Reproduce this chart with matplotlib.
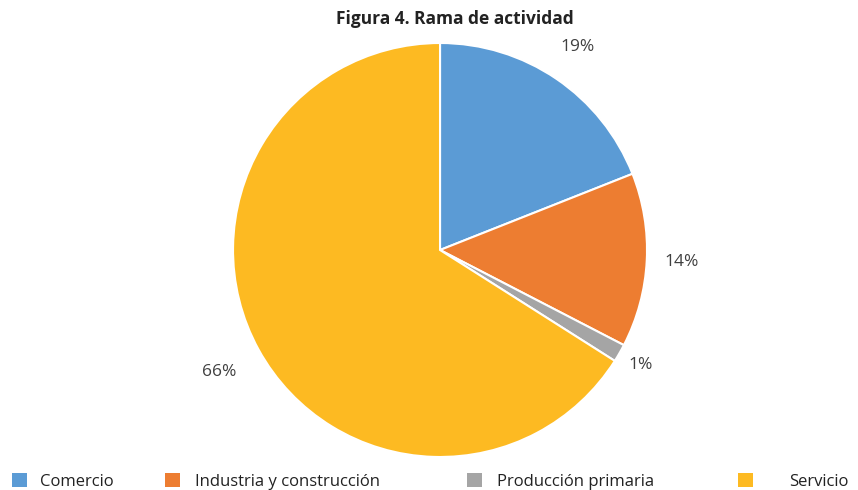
import numpy as np
import matplotlib.pyplot as plt
from matplotlib.patches import Patch

plt.rcParams['font.family'] = ['Open Sans', 'DejaVu Sans']

categories = ['Comercio', 'Industria y construcción', 'Producción primaria', 'Servicio']
values = [19.0, 13.6, 1.4, 66.0]
colors = ['#5B9BD5', '#ED7D31', '#A5A5A5', '#FDBA22']

fig = plt.figure(figsize=(8.58, 4.90), dpi=100)
ax = fig.add_axes([0.2716, 0.0673, 0.4825, 0.845])

wedges, texts = ax.pie(values, colors=colors, startangle=90, counterclock=False,
                       wedgeprops=dict(edgecolor='white', linewidth=1.5))
# label distances
label_dist = [1.185, 1.17, 1.12, 1.22]
for w, v, d in zip(wedges, values, label_dist):
    ang = np.deg2rad((w.theta1 + w.theta2) / 2)
    ax.text(d * np.cos(ang), d * np.sin(ang), f'{round(v):d}%', ha='center', va='center',
            fontsize=12.5, color='#404040')
ax.set_xlim(-1, 1)
ax.set_ylim(-1, 1)
ax.set_aspect('equal')
ax.axis('off')

fig.text(0.530, 0.962, 'Figura 4. Rama de actividad', ha='center', va='center',
         fontsize=12.5, fontweight='bold', color='#222222')

# legend entries placed along the bottom like the original
leg_x = [0.006, 0.184, 0.537, 0.852]
leg_pad = [0.8, 0.9, 0.9, 2.2]
for cat, c, x, pad in zip(categories, colors, leg_x, leg_pad):
    fig.legend([Patch(facecolor=c)], [cat], loc='center left', bbox_to_anchor=(x, 0.018),
               frameon=False, fontsize=12, handlelength=0.9, handleheight=0.9,
               handletextpad=pad, borderaxespad=0, labelcolor='#222222')

fig.savefig('out.png', dpi=100)
